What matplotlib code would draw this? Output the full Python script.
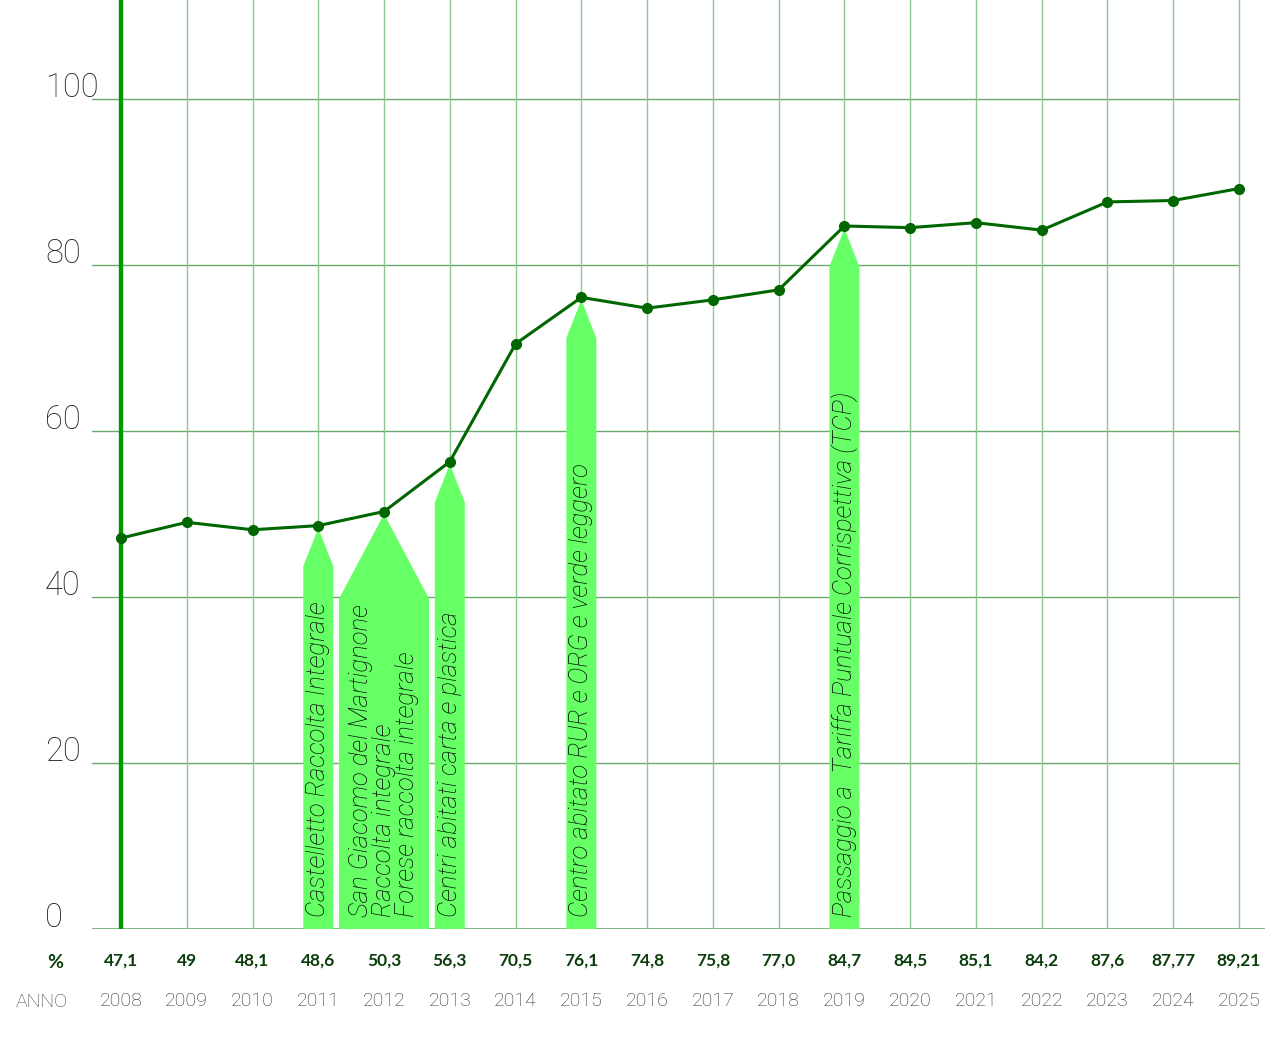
import matplotlib
matplotlib.use("Agg")
import matplotlib.pyplot as plt
from matplotlib.patches import Polygon

years = list(range(2008, 2026))
values = [47.1, 49, 48.1, 48.6, 50.3, 56.3, 70.5, 76.1, 74.8, 75.8, 77.0,
          84.7, 84.5, 85.1, 84.2, 87.6, 87.77, 89.21]
value_labels = ["47,1", "49", "48,1", "48,6", "50,3", "56,3", "70,5", "76,1",
                "74,8", "75,8", "77,0", "84,7", "84,5", "85,1", "84,2",
                "87,6", "87,77", "89,21"]
y_ticks = [0, 20, 40, 60, 80, 100]

# events marked with an arrow: year, text
event_years = [2011, 2012, 2013, 2015, 2019]
event_texts = [
    "Castelletto Raccolta Integrale",
    "San Giacomo del Martignone\nRaccolta integrale\nForese raccolta integrale",
    "Centri abitati carta e plastica",
    "Centro abitato RUR e ORG e verde leggero",
    "Passaggio a  Tariffa Puntuale Corrispettiva (TCP)",
]

plt.rcParams['font.family'] = ['Roboto', 'DejaVu Sans']
bold_font = ['Lato', 'DejaVu Sans']

fig = plt.figure(figsize=(12.81, 10.38), dpi=100)
ax = fig.add_axes([92 / 1281, 109 / 1038, 1173 / 1281, 929 / 1038])
step = 65.76
ax.set_xlim(2008 - 29 / step, 2025 + 26 / step)
ax.set_ylim(0, 929 / 8.3)
ax.axis('off')

# grid
for t in y_ticks[1:]:
    ax.plot([ax.get_xlim()[0], 2025], [t, t], color='#6aaa6a', lw=1, zorder=1)
ax.axhline(0, color='#6aaa6a', lw=1.2, zorder=1)
for yr in years[1:]:
    ax.axvline(yr, color='#8cc88c', lw=1, zorder=1)
ax.axvline(2008, color='#009a00', lw=3.2, zorder=4)

for t in y_ticks:
    ax.text(2008 - 76 / step, t + 0.3, str(t), ha='left', va='baseline',
            fontsize=23.5, fontweight='light', color='#222222', clip_on=False)

# arrows
half = 15 / step
for yr, txt in zip(event_years, event_texts):
    v = values[years.index(yr)]
    tip = v - 0.3
    if yr == 2012:
        hw, sh = 45 / step, tip - 10.2
    else:
        hw, sh = half, tip - 4.6
    poly = Polygon([(yr - hw, 0), (yr - hw, sh), (yr, tip), (yr + hw, sh),
                    (yr + hw, 0)], closed=True, facecolor='#66ff66',
                   edgecolor='none', zorder=2)
    ax.add_patch(poly)
    ax.text(yr, 1.4, txt, rotation=90, ha='center', va='bottom',
            multialignment='left', fontsize=18.5, style='italic',
            fontweight='light', color='#000000', linespacing=0.97, zorder=3)

ax.plot(years, values, color='#006600', lw=2.2, marker='o', markersize=7,
        zorder=5)

# table under the chart
for yr, lab in zip(years, value_labels):
    ax.text(yr, -4.45, lab, ha='center', va='baseline', fontsize=12.5,
            fontweight='bold', color='#0b3d0b', family=bold_font,
            clip_on=False)
    ax.text(yr, -9.3, str(yr), ha='center', va='baseline', fontsize=14,
            fontweight='light', color='#2e2e2e', clip_on=False)
ax.text(2008 - 66 / step, -4.7, "%", ha='center', va='baseline', fontsize=14,
        fontweight='bold', color='#0b3d0b', family=bold_font, clip_on=False)
ax.text(2008 - 79 / step, -9.4, "ANNO", ha='center', va='baseline',
        fontsize=14, fontweight='light', color='#444444', clip_on=False)

fig.savefig("out.png", dpi=100)
